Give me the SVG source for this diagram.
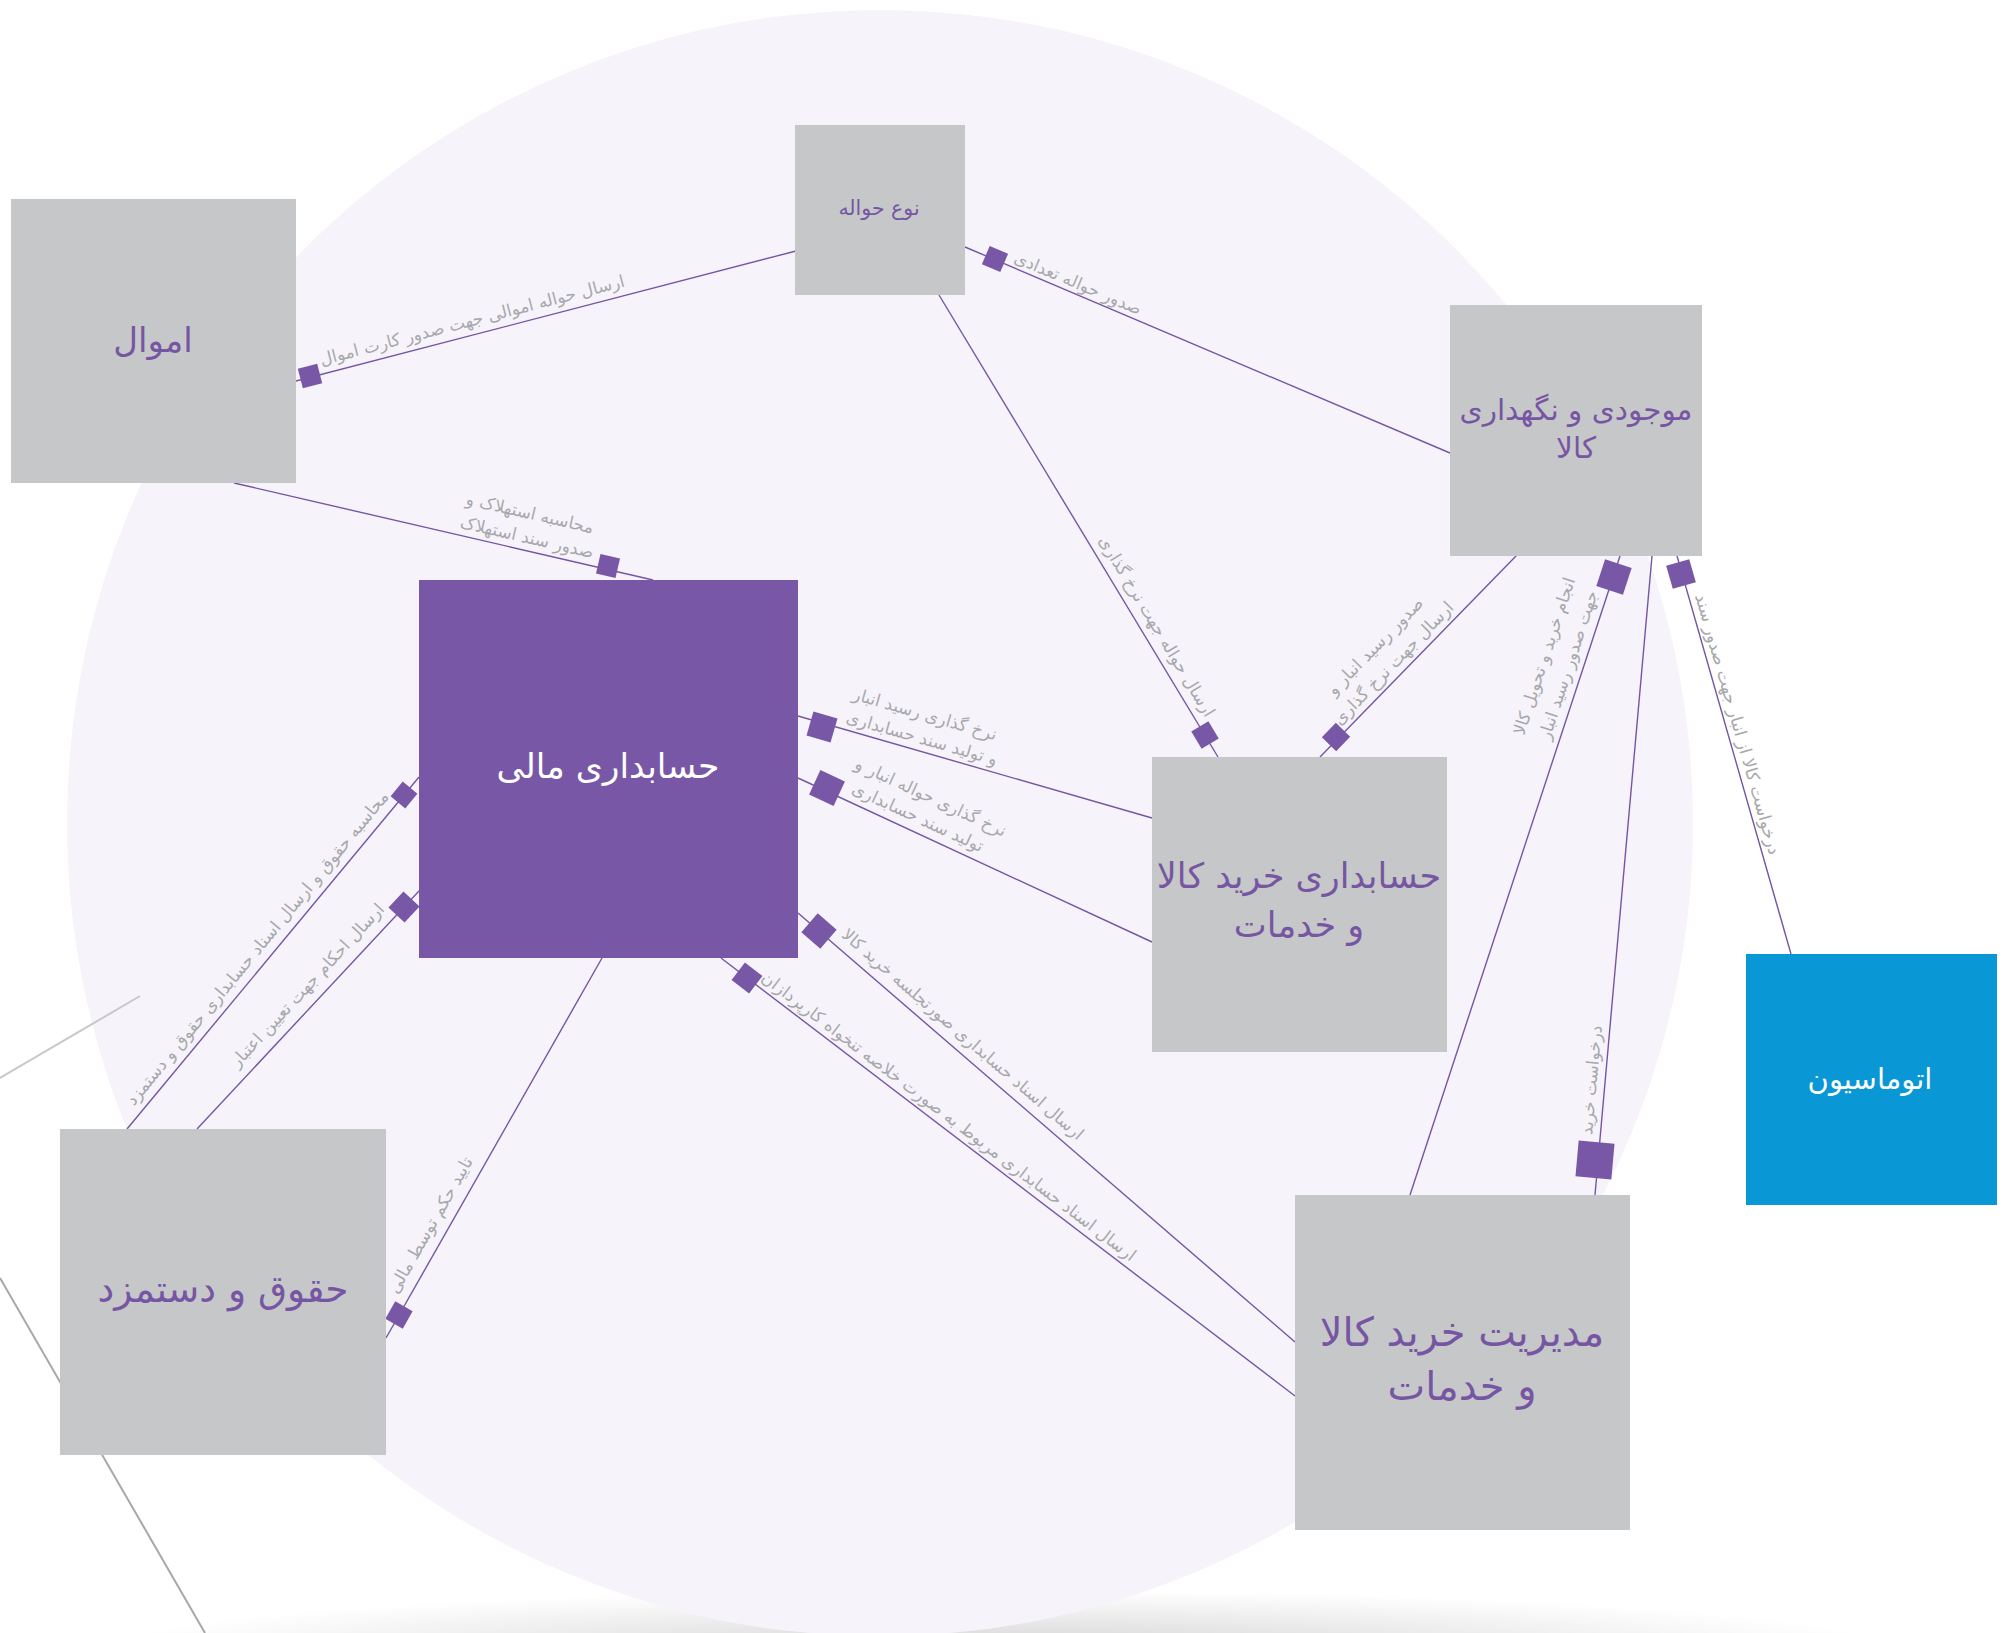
<svg xmlns="http://www.w3.org/2000/svg" width="2009" height="1633" viewBox="0 0 2009 1633">
<defs>
<style>
.box{fill:#c6c7c9}
.ln{stroke:#7456a4;stroke-width:1.4;fill:none}
.mk{fill:#7858a6}
.nt{font-family:"DejaVu Sans",sans-serif;fill:#7656a3;text-anchor:middle;dominant-baseline:central}
.wt{font-family:"DejaVu Sans",sans-serif;fill:#ffffff;text-anchor:middle;dominant-baseline:central}
.lb{font-family:"DejaVu Sans",sans-serif;fill:#a8a8ac;font-size:17px;text-anchor:middle;dominant-baseline:central}
</style>
<radialGradient id="sh" cx="0.5" cy="0.5" r="0.5">
<stop offset="0" stop-color="#cfcfcf" stop-opacity="0.9"/>
<stop offset="1" stop-color="#cfcfcf" stop-opacity="0"/>
</radialGradient>
</defs>
<rect width="2009" height="1633" fill="#ffffff"/>
<ellipse cx="1000" cy="1650" rx="900" ry="60" fill="url(#sh)"/>
<circle cx="880" cy="823" r="813" fill="#f6f4fa"/>
<line x1="0" y1="1078" x2="140" y2="996" stroke="#c8c8c8" stroke-width="2"/>
<line x1="0" y1="1278" x2="205" y2="1633" stroke="#a8a8a8" stroke-width="2"/>

<g id="connectors">
<line class="ln" x1="296" y1="381" x2="796" y2="251"/>
<line class="ln" x1="965" y1="247" x2="1450" y2="453"/>
<line class="ln" x1="939" y1="295" x2="1218" y2="757"/>
<line class="ln" x1="234" y1="483" x2="653" y2="580"/>
<line class="ln" x1="1516" y1="556" x2="1320" y2="757"/>
<line class="ln" x1="1620" y1="556" x2="1410" y2="1195"/>
<line class="ln" x1="1652" y1="556" x2="1595" y2="1195"/>
<line class="ln" x1="1677" y1="556" x2="1791" y2="954"/>
<line class="ln" x1="798" y1="716" x2="1152" y2="818"/>
<line class="ln" x1="798" y1="778" x2="1152" y2="942"/>
<line class="ln" x1="798" y1="913" x2="1295" y2="1342"/>
<line class="ln" x1="721" y1="958" x2="1295" y2="1396"/>
<line class="ln" x1="127" y1="1129" x2="419" y2="777"/>
<line class="ln" x1="197" y1="1129" x2="419" y2="891"/>
<line class="ln" x1="386" y1="1338" x2="602" y2="958"/>

<rect class="mk" x="-10" y="-10" width="20" height="20" transform="translate(310,376) rotate(-14.6)"/>
<rect class="mk" x="-10" y="-10" width="20" height="20" transform="translate(995,259) rotate(23)"/>
<rect class="mk" x="-10" y="-10" width="20" height="20" transform="translate(1205,735) rotate(58.9)"/>
<rect class="mk" x="-10" y="-10" width="20" height="20" transform="translate(608,566) rotate(13)"/>
<rect class="mk" x="-10" y="-10" width="20" height="20" transform="translate(1336,737) rotate(-45.7)"/>
<rect class="mk" x="-14" y="-14" width="28" height="28" transform="translate(1614,577) rotate(-71.8)"/>
<rect class="mk" x="-18" y="-18" width="36" height="36" transform="translate(1595,1160) rotate(-84.9)"/>
<rect class="mk" x="-12" y="-12" width="24" height="24" transform="translate(1681,574) rotate(74)"/>
<rect class="mk" x="-12.5" y="-12.5" width="25" height="25" transform="translate(822,727) rotate(16.1)"/>
<rect class="mk" x="-13.5" y="-13.5" width="27" height="27" transform="translate(827,788) rotate(24.8)"/>
<rect class="mk" x="-12.5" y="-12.5" width="25" height="25" transform="translate(819,931) rotate(40.8)"/>
<rect class="mk" x="-11" y="-11" width="22" height="22" transform="translate(747,978) rotate(37.3)"/>
<rect class="mk" x="-9.5" y="-9.5" width="19" height="19" transform="translate(404,795) rotate(-50.4)"/>
<rect class="mk" x="-11" y="-11" width="22" height="22" transform="translate(404,907) rotate(-47)"/>
<rect class="mk" x="-10" y="-10" width="20" height="20" transform="translate(399,1315) rotate(-60.35)"/>

<text class="lb" transform="translate(472,320) rotate(-14.6)">ارسال حواله اموالی جهت صدور کارت اموال</text>
<text class="lb" transform="translate(1078,283) rotate(23)">صدور حواله تعدادی</text>
<text class="lb" transform="translate(1157,626) rotate(58.9)">ارسال حواله جهت نرخ گذاری</text>
<text class="lb" transform="translate(530,513) rotate(13)">محاسبه استهلاک و</text>
<text class="lb" transform="translate(527,537) rotate(13)">صدور سند استهلاک</text>
<text class="lb" transform="translate(1375,646) rotate(-45.7)">صدور رسید انبار و</text>
<text class="lb" transform="translate(1393,663) rotate(-45.7)">ارسال جهت نرخ گذاری</text>
<text class="lb" transform="translate(1544,656) rotate(-71.8)">انجام خرید و تحویل کالا</text>
<text class="lb" transform="translate(1568,665) rotate(-71.8)">جهت صدور رسید انبار</text>
<text class="lb" transform="translate(1591,1080) rotate(-84.9)">درخواست خرید</text>
<text class="lb" transform="translate(1738,724) rotate(74)">درخواست کالا از انبار جهت صدور سند</text>
<text class="lb" transform="translate(925,714) rotate(16.1)">نرخ گذاری رسید انبار</text>
<text class="lb" transform="translate(922,738) rotate(16.1)">و تولید سند حسابداری</text>
<text class="lb" transform="translate(931,797) rotate(24.8)">نرخ گذاری حواله انبار و</text>
<text class="lb" transform="translate(918,817) rotate(24.8)">تولید سند حسابداری</text>
<text class="lb" transform="translate(963,1034) rotate(40.8)">ارسال اسناد حسابداری صورتجلسه خرید کالا</text>
<text class="lb" transform="translate(949,1116) rotate(37.3)">ارسال اسناد حسابداری مربوط به صورت خلاصه تنخواه کارپردازان</text>
<text class="lb" transform="translate(257,948) rotate(-50.4)" font-size="16.5">محاسبه حقوق و ارسال اسناد حسابداری حقوق و دستمزد</text>
<text class="lb" transform="translate(307,985) rotate(-47)">ارسال احکام جهت تعیین اعتبار</text>
<text class="lb" transform="translate(430,1225) rotate(-60.35)">تایید حکم توسط مالی</text>
</g>

<g id="node-amval">
<rect class="box" x="11" y="199" width="285" height="284"/>
<text class="nt" x="153" y="340" font-size="34">اموال</text>
</g>
<g id="node-noe-havaleh">
<rect class="box" x="795" y="125" width="170" height="170"/>
<text class="nt" x="879" y="208" font-size="20.5">نوع حواله</text>
</g>
<g id="node-mojoodi">
<rect class="box" x="1450" y="305" width="252" height="251"/>
<text class="nt" x="1576" y="410" font-size="29.5">موجودی و نگهداری</text>
<text class="nt" x="1576" y="448" font-size="29.5">کالا</text>
</g>
<g id="node-mali">
<rect x="419" y="580" width="379" height="378" fill="#7858a6"/>
<text class="wt" x="608" y="766" font-size="34.5">حسابداری مالی</text>
</g>
<g id="node-hesabdari-kharid">
<rect class="box" x="1152" y="757" width="295" height="295"/>
<text class="nt" x="1299" y="876" font-size="35">حسابداری خرید کالا</text>
<text class="nt" x="1299" y="925" font-size="35">و خدمات</text>
</g>
<g id="node-modiriat-kharid">
<rect class="box" x="1295" y="1195" width="335" height="335"/>
<text class="nt" x="1462" y="1332" font-size="40">مدیریت خرید کالا</text>
<text class="nt" x="1462" y="1386" font-size="40">و خدمات</text>
</g>
<g id="node-hoghoogh">
<rect class="box" x="60" y="1129" width="326" height="326"/>
<text class="nt" x="223" y="1289" font-size="37.5">حقوق و دستمزد</text>
</g>
<g id="node-automation">
<rect x="1746" y="954" width="251" height="251" fill="#0a97d5"/>
<text class="wt" x="1870" y="1079" font-size="29">اتوماسیون</text>
</g>
</svg>
